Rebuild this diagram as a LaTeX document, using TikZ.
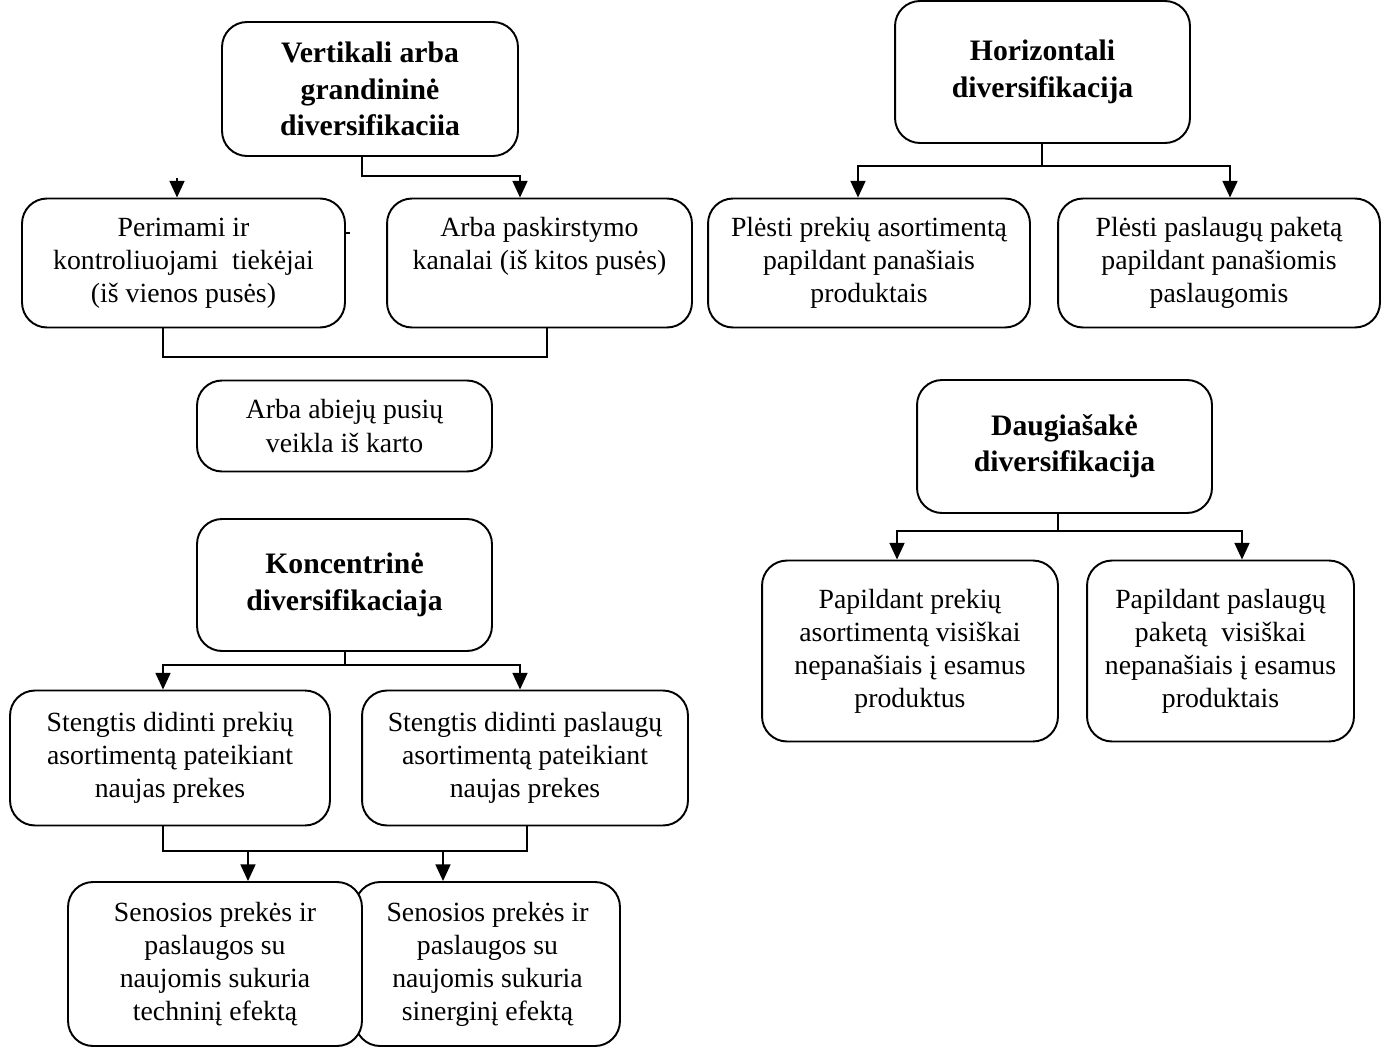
\documentclass[tikz,border=0pt]{standalone}
\usepackage{fontspec}
\setmainfont{Liberation Serif}
\usetikzlibrary{arrows.meta}
\begin{document}
\begin{tikzpicture}[x=0.02cm,y=-0.02cm,
  box/.style={draw, line width=1.1pt, rounded corners=0.5cm, align=center,
    inner sep=0pt, font=\fontsize{15.8pt}{18.8pt}\selectfont},
  head/.style={box, font=\fontsize{16.9pt}{20.7pt}\selectfont\bfseries},
  link/.style={line width=1.1pt},
  arr/.style={link, -{Triangle[length=9.5pt,width=8.5pt]}}]
\useasboundingbox (0,0) rectangle (1389,1048);

% left column
\node[head, minimum width=5.92cm, minimum height=2.68cm] (A) at (370,89)
  {Vertikali arba\\grandininė\\diversifikaciia};
\node[box, minimum width=6.46cm, minimum height=2.58cm] (B) at (183.5,263)
  {Perimami ir\\kontroliuojami\ \ tiekėjai\\(iš vienos pusės)};
\node[box, minimum width=6.1cm, minimum height=2.58cm] (C) at (539.5,263)
  {Arba paskirstymo\\kanalai (iš kitos pusės)\\\phantom{(}};
\node[box, minimum width=5.9cm, minimum height=1.82cm] (D) at (344.5,426)
  {Arba abiejų pusių\\veikla iš karto};
\node[head, minimum width=5.9cm, minimum height=2.64cm] (E) at (344.5,585)
  {Koncentrinė\\diversifikaciaja};
\node[box, minimum width=6.4cm, minimum height=2.7cm] (F) at (170,758)
  {Stengtis didinti prekių\\asortimentą pateikiant\\naujas prekes};
\node[box, minimum width=6.52cm, minimum height=2.7cm] (G) at (525,758)
  {Stengtis didinti paslaugų\\asortimentą pateikiant\\naujas prekes};
\node[box, fill=white, minimum width=5.3cm, minimum height=3.28cm] (I) at (487.5,964)
  {Senosios prekės ir\\paslaugos su\\naujomis sukuria\\sinerginį efektą};
\node[box, fill=white, minimum width=5.88cm, minimum height=3.28cm] (H) at (215,964)
  {Senosios prekės ir\\paslaugos su\\naujomis sukuria\\techninį efektą};

% right column
\node[head, minimum width=5.9cm, minimum height=2.84cm] (J) at (1042.5,72)
  {Horizontali\\diversifikacija};
\node[box, minimum width=6.44cm, minimum height=2.58cm] (K) at (869,263)
  {Plėsti prekių asortimentą\\papildant panašiais\\produktais};
\node[box, minimum width=6.44cm, minimum height=2.58cm] (L) at (1219,263)
  {Plėsti paslaugų paketą\\papildant panašiomis\\paslaugomis};
\node[head, minimum width=5.9cm, minimum height=2.66cm] (M) at (1064.5,446.5)
  {Daugiašakė\\diversifikacija};
\node[box, minimum width=5.92cm, minimum height=3.62cm] (N) at (910,651)
  {Papildant prekių\\asortimentą visiškai\\nepanašiais į esamus\\produktus};
\node[box, minimum width=5.34cm, minimum height=3.62cm] (O) at (1220.5,651)
  {Papildant paslaugų\\paketą\ \ visiškai\\nepanašiais į esamus\\produktais};

% helper points for the connector stems
\coordinate (a1) at (362,176);
\coordinate (c1) at (520,176);
\coordinate (b1) at (177,178);
\coordinate (tk) at (350,233);
\coordinate (bc) at (163,357);
\coordinate (cb) at (547,357);
\coordinate (e1) at (345,665);
\coordinate (eL) at (163,665);
\coordinate (eR) at (520,665);
\coordinate (fg) at (163,851);
\coordinate (gf) at (527,851);
\coordinate (h1) at (248,851);
\coordinate (i1) at (443,851);
\coordinate (j1) at (1042,166);
\coordinate (jL) at (858,166);
\coordinate (jR) at (1230,166);
\coordinate (m1) at (1058,531);
\coordinate (mL) at (897,531);
\coordinate (mR) at (1242,531);

% vertical diversification
\draw[arr] (A.south -| a1) -- (a1) -- (c1) -- (C.north -| c1);
\draw[arr] (b1) -- (B.north -| b1);
\draw[link] (B.east |- tk) -- (tk);
\draw[link] (B.south -| bc) -- (bc) -- (cb) -- (C.south -| cb);

% concentric diversification
\draw[link] (E.south -| e1) -- (e1);
\draw[arr] (e1) -- (eL) -- (F.north -| eL);
\draw[arr] (e1) -- (eR) -- (G.north -| eR);
\draw[link] (F.south -| fg) -- (fg) -- (gf) -- (G.south -| gf);
\draw[arr] (h1) -- (H.north -| h1);
\draw[arr] (i1) -- (I.north -| i1);

% horizontal diversification
\draw[link] (J.south -| j1) -- (j1);
\draw[arr] (j1) -- (jL) -- (K.north -| jL);
\draw[arr] (j1) -- (jR) -- (L.north -| jR);

% conglomerate diversification
\draw[link] (M.south -| m1) -- (m1);
\draw[arr] (m1) -- (mL) -- (N.north -| mL);
\draw[arr] (m1) -- (mR) -- (O.north -| mR);
\end{tikzpicture}
\end{document}
